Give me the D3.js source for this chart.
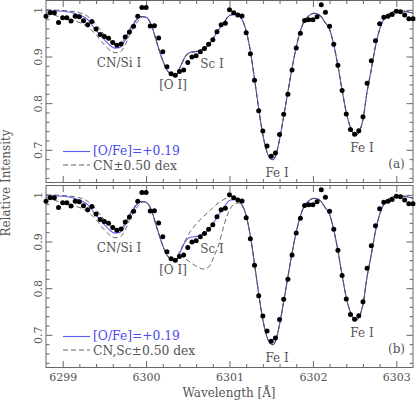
<!DOCTYPE html>
<html><head><meta charset="utf-8">
<script src="https://cdn.jsdelivr.net/npm/d3@7"></script>
<style>
body{margin:0;background:#fff}
svg{display:block}
text{font-family:"DejaVu Serif","Liberation Serif",serif}
</style>
</head><body>
<svg id="c" width="416" height="402"></svg>
<script>
// ---------------- data ----------------
const xDomain = [6298.8, 6303.2];
const yDomain = [0.63, 1.02];
const xTickValues = [6299, 6300, 6301, 6302, 6303];
const yTickValues = [0.7, 0.8, 0.9, 1.0];

// observed spectrum (dots)
const wavelength = [
 6298.80,6298.85,6298.90,6298.95,6299.00,6299.05,6299.10,6299.15,6299.20,6299.25,
 6299.30,6299.35,6299.40,6299.45,6299.50,6299.55,6299.60,6299.65,6299.70,6299.75,
 6299.80,6299.85,6299.90,6299.95,6300.00,6300.05,6300.10,6300.15,6300.20,6300.25,
 6300.30,6300.35,6300.40,6300.45,6300.50,6300.55,6300.60,6300.65,6300.70,6300.75,
 6300.80,6300.85,6300.90,6300.95,6301.00,6301.05,6301.10,6301.15,6301.20,6301.25,
 6301.30,6301.35,6301.40,6301.45,6301.50,6301.55,6301.60,6301.65,6301.70,6301.75,
 6301.80,6301.85,6301.90,6301.95,6302.00,6302.05,6302.10,6302.15,6302.20,6302.25,
 6302.30,6302.35,6302.40,6302.45,6302.50,6302.55,6302.60,6302.65,6302.70,6302.75,
 6302.80,6302.85,6302.90,6302.95,6303.00,6303.05,6303.10,6303.15,6303.20];
const observed = [
 0.986,0.9935,0.9935,0.973,0.983,0.983,0.976,0.986,0.985,0.9765,
 0.968,0.975,0.959,0.947,0.943,0.939,0.930,0.924,0.927,0.942,
 0.9525,0.965,0.986,1.005,1.005,0.9655,0.966,0.9395,0.910,0.878,
 0.863,0.860,0.868,0.871,0.887,0.899,0.9015,0.910,0.917,0.926,
 0.936,0.953,0.968,0.971,1.000,0.9935,0.989,0.987,0.951,0.906,
 0.849,0.784,0.7405,0.708,0.686,0.693,0.733,0.776,0.819,0.871,
 0.918,0.950,0.977,0.979,0.979,0.985,1.011,0.995,0.965,0.926,
 0.881,0.827,0.777,0.7435,0.7335,0.741,0.771,0.8425,0.891,0.934,
 0.970,0.984,0.986,0.990,0.997,0.996,0.989,0.981,0.981];

// best-fit synthesis, [O/Fe]=+0.19 (nodes)
const synthWave = [
 6298.80,6299.02,6299.18,6299.30,6299.38,6299.48,6299.56,6299.62,6299.68,6299.74,
 6299.80,6299.86,6299.92,6299.96,6300.01,6300.07,6300.13,6300.19,6300.25,6300.31,
 6300.35,6300.41,6300.47,6300.53,6300.61,6300.69,6300.77,6300.85,6300.93,6301.01,
 6301.07,6301.13,6301.20,6301.25,6301.30,6301.35,6301.40,6301.45,6301.50,6301.525,
 6301.55,6301.60,6301.65,6301.70,6301.75,6301.80,6301.85,6301.90,6301.95,6302.01,
 6302.07,6302.15,6302.20,6302.25,6302.30,6302.35,6302.40,6302.45,6302.50,6302.525,
 6302.55,6302.60,6302.65,6302.70,6302.75,6302.80,6302.85,6302.90,6302.95,6303.01,
 6303.10,6303.20];
const synthFlux = [
 0.998,0.997,0.990,0.979,0.961,0.940,0.925,0.918,0.919,0.932,
 0.954,0.972,0.984,0.9855,0.983,0.964,0.929,0.896,0.871,0.860,
 0.858,0.878,0.900,0.909,0.911,0.916,0.929,0.952,0.972,0.989,
 0.990,0.984,0.955,0.912,0.852,0.788,0.732,0.695,0.680,0.679,
 0.686,0.722,0.772,0.824,0.875,0.920,0.955,0.977,0.987,0.9925,
 0.990,0.972,0.958,0.925,0.880,0.828,0.780,0.748,0.733,0.732,
 0.737,0.765,0.825,0.872,0.922,0.958,0.980,0.990,0.995,0.998,
 0.997,0.993];

// CN ±0.50 dex (where different from best fit)
const cnMinusWave = [6298.80,6299.05,6299.25,6299.37,6299.47,6299.57,6299.64,6299.70,6299.76,6299.82,6299.88,6299.94];
const cnMinusFlux = [1.000,0.998,0.991,0.975,0.953,0.934,0.927,0.929,0.944,0.964,0.979,0.9855];
const cnPlusWave  = [6298.80,6299.05,6299.27,6299.39,6299.49,6299.57,6299.63,6299.69,6299.75,6299.81,6299.87,6299.93];
const cnPlusFlux  = [0.994,0.980,0.967,0.949,0.927,0.913,0.908,0.910,0.925,0.949,0.968,0.981];

// Sc ±0.50 dex (where different from best fit)
const scMinusWave = [6300.37,6300.45,6300.53,6300.61,6300.69,6300.77,6300.85,6300.93,6301.01,6301.08];
const scMinusFlux = [0.866,0.895,0.9215,0.9395,0.954,0.967,0.980,0.990,0.996,0.995];
const scPlusWave  = [6300.40,6300.47,6300.53,6300.61,6300.69,6300.75,6300.81,6300.87,6300.93,6300.99,6301.05,6301.11,6301.16];
const scPlusFlux  = [0.870,0.863,0.8555,0.846,0.841,0.845,0.866,0.893,0.932,0.964,0.979,0.9825,0.975];

const lineLabels = [
 {text:"CN/Si I", w:6299.675, f:0.886},
 {text:"[O I]",   w:6300.323, f:0.840},
 {text:"Sc I",    w:6300.790, f:0.884},
 {text:"Fe I",    w:6301.570, f:0.651},
 {text:"Fe I",    w:6302.589, f:0.704}
];

// ---------------- drawing ----------------
const zip = (a, b) => a.map((v, i) => [v, b[i]]);
const synth = zip(synthWave, synthFlux);
function splice(base, ...over) {
  const kept = base.filter(d => !over.some(o => d[0] >= o[0][0] - 1e-6 && d[0] <= o[o.length - 1][0] + 1e-6));
  return kept.concat(...over).sort((a, b) => a[0] - b[0]);
}
const cnM = zip(cnMinusWave, cnMinusFlux), cnP = zip(cnPlusWave, cnPlusFlux);
const scM = zip(scMinusWave, scMinusFlux), scP = zip(scPlusWave, scPlusFlux);

const BLUE = "#5a5af2", BLUE_TXT = "#4a4af0", GREY = "#555", AX = "#666", TXT = "#555";
const X0 = 46, X1 = 413;
const x = d3.scaleLinear().domain(xDomain).range([X0, X1]);
const svg = d3.select("#c");

const panels = [
  {t:0.5, b:182.5, letter:"(a)", legend:"CN\u00b10.50 dex", dashed:[splice(synth, cnM), splice(synth, cnP)], labels:false},
  {t:185.5, b:367.5, letter:"(b)", legend:"CN,Sc\u00b10.50 dex", dashed:[splice(synth, cnM, scM), splice(synth, cnP, scP)], labels:true}
];
const MAJ = 6.5, MIN = 3.5;

panels.forEach((p, pi) => {
  const y = d3.scaleLinear().domain(yDomain).range([p.b, p.t]);
  const g = svg.append("g");
  const minX = x.ticks(22).filter(v => !xTickValues.some(m => Math.abs(m - v) < 1e-6) && v > xDomain[0] + 1e-6 && v < xDomain[1] - 1e-6);
  const minY = y.ticks(20).filter(v => !yTickValues.some(m => Math.abs(m - v) < 1e-6) && v > yDomain[0] + 1e-6 && v < yDomain[1] - 1e-6);

  const styleAxis = sel => { sel.select(".domain").remove(); sel.selectAll("line").attr("stroke", AX); sel.selectAll("text").attr("fill", TXT).style("font-size", "11px").style("font-family", '"DejaVu Serif",serif'); };

  // bottom
  g.append("g").attr("transform", `translate(0,${p.b})`)
    .call(d3.axisBottom(x).tickValues(xTickValues).tickSizeInner(-MAJ).tickSizeOuter(0).tickPadding(6)
      .tickFormat(p.labels ? d3.format("d") : () => "")).call(styleAxis);
  g.append("g").attr("transform", `translate(0,${p.b})`)
    .call(d3.axisBottom(x).tickValues(minX).tickSizeInner(-MIN).tickSizeOuter(0).tickFormat(() => "")).call(styleAxis);
  // top
  g.append("g").attr("transform", `translate(0,${p.t})`)
    .call(d3.axisTop(x).tickValues(xTickValues).tickSizeInner(-MAJ).tickSizeOuter(0).tickFormat(() => "")).call(styleAxis);
  g.append("g").attr("transform", `translate(0,${p.t})`)
    .call(d3.axisTop(x).tickValues(minX).tickSizeInner(-MIN).tickSizeOuter(0).tickFormat(() => "")).call(styleAxis);
  // left
  const la = g.append("g").attr("transform", `translate(${X0},0)`)
    .call(d3.axisLeft(y).tickValues(yTickValues).tickSizeInner(-MAJ).tickSizeOuter(0)
      .tickFormat(d => Math.abs(d - 1) < 1e-9 ? "1" : d3.format(".1f")(d))).call(styleAxis);
  la.selectAll("text").attr("transform", "rotate(-90)").attr("x", 0).attr("y", -8).attr("dy", "0.35em").attr("text-anchor", "middle");
  g.append("g").attr("transform", `translate(${X0},0)`)
    .call(d3.axisLeft(y).tickValues(minY).tickSizeInner(-MIN).tickSizeOuter(0).tickFormat(() => "")).call(styleAxis);
  // right
  g.append("g").attr("transform", `translate(${X1},0)`)
    .call(d3.axisRight(y).tickValues(yTickValues).tickSizeInner(-MAJ).tickSizeOuter(0).tickFormat(() => "")).call(styleAxis);
  g.append("g").attr("transform", `translate(${X1},0)`)
    .call(d3.axisRight(y).tickValues(minY).tickSizeInner(-MIN).tickSizeOuter(0).tickFormat(() => "")).call(styleAxis);

  // frame
  g.append("rect").attr("x", X0).attr("y", p.t).attr("width", X1 - X0).attr("height", p.b - p.t)
    .attr("fill", "none").attr("stroke", AX).attr("stroke-width", 1);

  // clip
  const cid = "clip" + pi;
  svg.append("clipPath").attr("id", cid).append("rect").attr("x", X0).attr("y", p.t).attr("width", X1 - X0).attr("height", p.b - p.t);
  const cg = g.append("g").attr("clip-path", `url(#${cid})`);
  const line = d3.line().x(d => x(d[0])).y(d => y(d[1])).curve(d3.curveMonotoneX);

  cg.append("path").attr("d", line(synth)).attr("fill", "none").attr("stroke", BLUE).attr("stroke-width", 1.1);
  p.dashed.forEach(ds => cg.append("path").attr("d", line(ds)).attr("fill", "none")
    .attr("stroke", GREY).attr("stroke-width", 0.9).attr("stroke-dasharray", "5,3"));

  // dots
  g.append("g").selectAll("circle").data(zip(wavelength, observed)).join("circle")
    .attr("cx", d => x(d[0])).attr("cy", d => y(d[1])).attr("r", 2.5).attr("fill", "#000");

  // line labels
  g.append("g").selectAll("text").data(lineLabels).join("text")
    .attr("x", d => x(d.w)).attr("y", d => y(d.f)).attr("dy", "0.36em").attr("text-anchor", "middle")
    .attr("fill", TXT).style("font-size", "12px").text(d => d.text);
  g.append("text").attr("x", 396.5).attr("y", p.t + 163.2).attr("dy", "0.36em").attr("text-anchor", "middle")
    .attr("fill", TXT).style("font-size", "12px").text(p.letter);

  // legend
  const ly = p.t;
  g.append("line").attr("x1", 63).attr("x2", 90).attr("y1", ly + 151).attr("y2", ly + 151).attr("stroke", BLUE).attr("stroke-width", 1.1);
  g.append("text").attr("x", 93).attr("y", ly + 154.5).attr("fill", BLUE_TXT).style("font-size", "12.3px").text("[O/Fe]=+0.19");
  g.append("line").attr("x1", 63).attr("x2", 90).attr("y1", ly + 164.5).attr("y2", ly + 164.5).attr("stroke", GREY)
    .attr("stroke-width", 0.9).attr("stroke-dasharray", "5,3");
  g.append("text").attr("x", 93).attr("y", ly + 169.5).attr("fill", TXT).style("font-size", "12.3px").text(p.legend);
});

// axis titles
svg.append("text").attr("transform", "translate(9.5,183) rotate(-90)").attr("text-anchor", "middle")
  .attr("fill", TXT).style("font-size", "12px").text("Relative Intensity");
svg.append("text").attr("x", 229).attr("y", 397).attr("text-anchor", "middle")
  .attr("fill", TXT).style("font-size", "12px").text("Wavelength [\u00c5]");
</script>
</body></html>
